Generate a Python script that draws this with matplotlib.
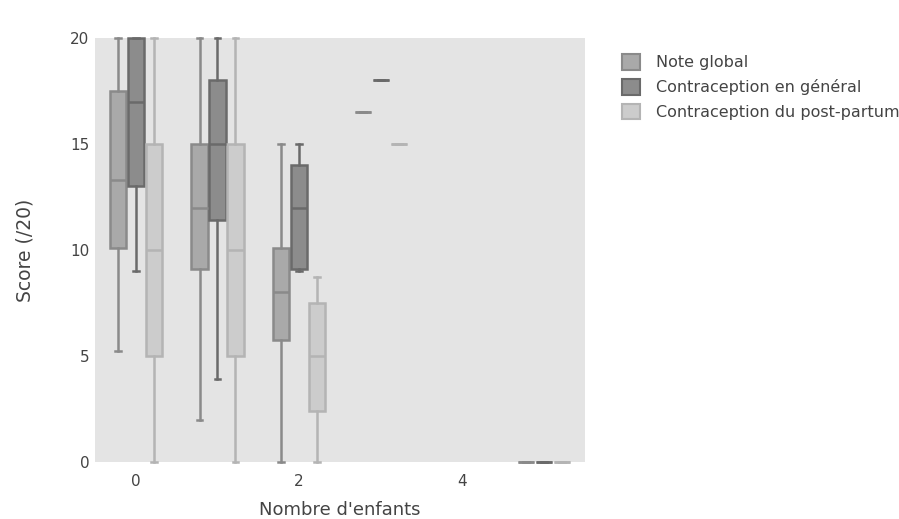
import matplotlib.pyplot as plt
from matplotlib.patches import Patch

# nombre d'enfants (x) -- pas de groupe pour 4
enfants = [0, 1, 2, 3, 5]
series = ["Note global", "Contraception en général", "Contraception du post-partum"]

# stats des boites (min, q1, mediane, q3, max)
note_min = [5.25, 2.0, 0.0, 16.5, 0.0]
note_q1 = [10.1, 9.1, 5.75, 16.5, 0.0]
note_med = [13.3, 12.0, 8.0, 16.5, 0.0]
note_q3 = [17.5, 15.0, 10.1, 16.5, 0.0]
note_max = [20.0, 20.0, 15.0, 16.5, 0.0]

gen_min = [9.0, 3.9, 9.0, 18.0, 0.0]
gen_q1 = [13.0, 11.4, 9.1, 18.0, 0.0]
gen_med = [17.0, 15.0, 12.0, 18.0, 0.0]
gen_q3 = [20.0, 18.0, 14.0, 18.0, 0.0]
gen_max = [20.0, 20.0, 15.0, 18.0, 0.0]

pp_min = [0.0, 0.0, 0.0, 15.0, 0.0]
pp_q1 = [5.0, 5.0, 2.4, 15.0, 0.0]
pp_med = [10.0, 10.0, 5.0, 15.0, 0.0]
pp_q3 = [15.0, 15.0, 7.5, 15.0, 0.0]
pp_max = [20.0, 20.0, 8.75, 15.0, 0.0]

all_stats = [
    (note_min, note_q1, note_med, note_q3, note_max),
    (gen_min, gen_q1, gen_med, gen_q3, gen_max),
    (pp_min, pp_q1, pp_med, pp_q3, pp_max),
]
faces = ["#a9a9a9", "#8c8c8c", "#cccccc"]
edges = ["#8a8a8a", "#6a6a6a", "#b4b4b4"]
offsets = [-0.22, 0.0, 0.22]

fig = plt.figure(figsize=(8.99, 5.19), dpi=100)
ax = fig.add_axes([95 / 899, 1 - 462 / 519, 490 / 899, 424 / 519])
ax.set_facecolor("#e4e4e4")

for k, (lo, q1, med, q3, hi) in enumerate(all_stats):
    stats = []
    for i in range(len(enfants)):
        stats.append({"whislo": lo[i], "q1": q1[i], "med": med[i],
                      "q3": q3[i], "whishi": hi[i], "fliers": []})
    pos = [x + offsets[k] for x in enfants]
    b = ax.bxp(stats, positions=pos, widths=0.2, patch_artist=True,
               capwidths=0.07, manage_ticks=False,
               boxprops=dict(facecolor=faces[k], edgecolor=edges[k], linewidth=1.8),
               whiskerprops=dict(color=edges[k], linewidth=1.8),
               capprops=dict(color=edges[k], linewidth=1.8),
               medianprops=dict(color=edges[k], linewidth=1.8))
    for grp in b.values():
        for art in grp:
            art.set_clip_on(False)

ax.set_xlim(-0.5, 5.5)
ax.set_ylim(0, 20)
ax.set_xticks([0, 2, 4])
ax.set_yticks([0, 5, 10, 15, 20])
ax.tick_params(length=0, labelsize=11, colors="#444444")
ax.tick_params(axis="x", pad=9)
ax.tick_params(axis="y", pad=4)
for s in ax.spines.values():
    s.set_visible(False)

ax.set_xlabel("Nombre d'enfants", fontsize=13, color="#444444", labelpad=8)
ax.set_ylabel("Score (/20)", fontsize=13.5, color="#444444", labelpad=26)

handles = [Patch(facecolor=faces[k], edgecolor=edges[k], linewidth=1.5) for k in range(3)]
fig.legend(handles, series, loc="upper left", bbox_to_anchor=(608 / 899, 1 - 40 / 519),
           frameon=False, fontsize=11.5, handlelength=1.1, handleheight=1.1,
           labelspacing=0.55, handletextpad=1.0, labelcolor="#444444")

fig.savefig("out.png", dpi=100)
